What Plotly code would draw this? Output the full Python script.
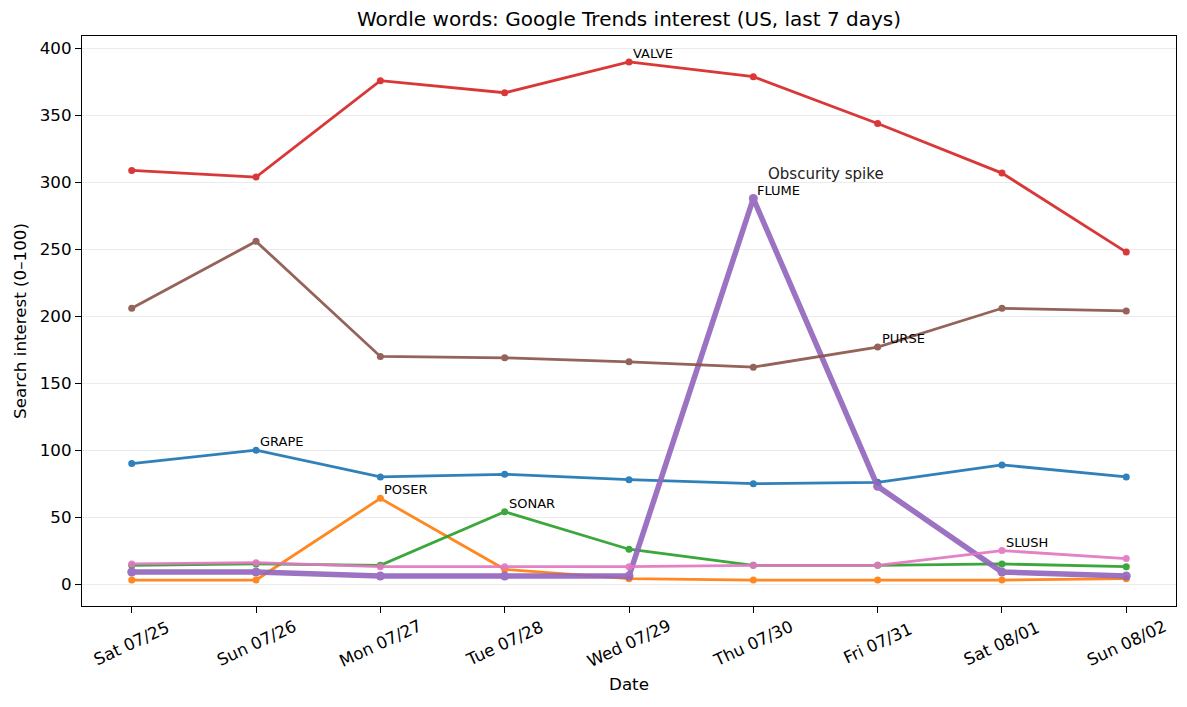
import plotly.graph_objects as go

# days shown on the x axis
dates = ["Sat 07/25", "Sun 07/26", "Mon 07/27", "Tue 07/28", "Wed 07/29",
         "Thu 07/30", "Fri 07/31", "Sat 08/01", "Sun 08/02"]

# search interest per word
grape = [90, 100, 80, 82, 78, 75, 76, 89, 80]
poser = [3, 3, 64, 11, 4, 3, 3, 3, 4]
sonar = [14, 15, 14, 54, 26, 14, 14, 15, 13]
valve = [309, 304, 376, 367, 390, 379, 344, 307, 248]
flume = [9, 9, 6, 6, 6, 288, 73, 9, 6]
purse = [206, 256, 170, 169, 166, 162, 177, 206, 204]
slush = [15, 16, 13, 13, 13, 14, 14, 25, 19]

words = ["GRAPE", "POSER", "SONAR", "VALVE", "FLUME", "PURSE", "SLUSH"]
series = [grape, poser, sonar, valve, flume, purse, slush]
# day index where each word gets its text label
label_days = [1, 2, 3, 4, 5, 6, 7]
colors = ["#1f77b4", "#ff7f0e", "#2ca02c", "#d62728", "#9467bd", "#8c564b", "#e377c2"]

x = list(range(len(dates)))

fig = go.Figure()
for word, vals, col in zip(words, series, colors):
    thick = word == "FLUME"
    fig.add_trace(go.Scatter(
        x=x, y=vals, name=word, mode="lines+markers", opacity=0.92,
        line=dict(color=col, width=5.5 if thick else 2.8),
        marker=dict(color=col, size=9 if thick else 7),
    ))

annotations = []
for word, vals, d in zip(words, series, label_days):
    annotations.append(dict(
        x=x[d], y=vals[d], xref="x", yref="y", text=word, showarrow=False,
        xanchor="left", yanchor="bottom", xshift=2, yshift=-1,
        font=dict(size=13, color="black"),
    ))

spike = flume.index(max(flume))
annotations.append(dict(
    x=x[spike], y=flume[spike], xref="x", yref="y", text="Obscurity spike",
    showarrow=False, xanchor="left", yanchor="bottom", xshift=13, yshift=14,
    font=dict(size=15, color="#222222"),
))

# rotated tick labels, centred under each tick like the original
for xi, lab in zip(x, dates):
    annotations.append(dict(
        x=xi, y=0, xref="x", yref="paper", text=lab, showarrow=False,
        textangle=-25, xanchor="center", yanchor="middle", yshift=-37,
        font=dict(size=16.7, color="black"),
    ))

fig.update_layout(
    width=1187, height=707,
    paper_bgcolor="white", plot_bgcolor="white",
    font=dict(family="DejaVu Sans", color="black"),
    title=dict(text="Wordle words: Google Trends interest (US, last 7 days)",
               xref="paper", x=0.5, xanchor="center", y=0.9844, yanchor="middle",
               font=dict(size=20)),
    margin=dict(l=72, r=19, t=28, b=109),
    showlegend=False,
    annotations=annotations,
)
fig.update_xaxes(
    range=[-0.4, 8.4], tickvals=x, showticklabels=False,
    ticks="outside", ticklen=6, tickcolor="black",
    showline=True, linecolor="black", linewidth=1.2, mirror=True,
    showgrid=False, zeroline=False,
    title=dict(text="Date", font=dict(size=16.7), standoff=66),
)
fig.update_yaxes(
    range=[-16.4, 409.4], tickvals=list(range(0, 401, 50)),
    ticks="outside", ticklen=6, tickcolor="black", tickfont=dict(size=16.7),
    showline=True, linecolor="black", linewidth=1.2, mirror=True,
    showgrid=True, gridcolor="#ebebeb", gridwidth=1, zeroline=False,
    title=dict(text="Search interest (0–100)", font=dict(size=16.7), standoff=8),
)

fig.write_html("out.html")
